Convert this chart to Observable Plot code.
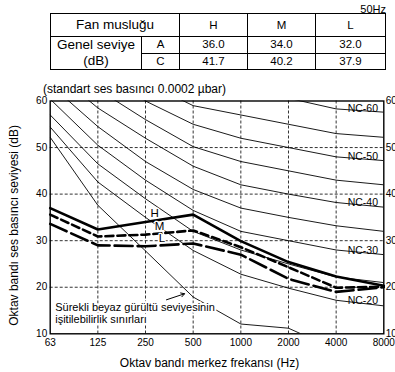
<!DOCTYPE html>
<html><head><meta charset="utf-8">
<script src="https://cdn.jsdelivr.net/npm/d3@7"></script>
<script src="https://cdn.jsdelivr.net/npm/@observablehq/plot@0.6"></script>
<style>
body{margin:0;background:#fff;font-family:"Liberation Sans",Arial,sans-serif;color:#000;}
#wrap{position:relative;width:395px;height:372px;overflow:hidden;background:#fff;}
#chart{position:absolute;left:0;top:0;}
#hz{position:absolute;right:9px;top:3px;font-size:11px;}
#std{position:absolute;left:43px;top:82px;font-size:12px;white-space:nowrap;}
#spec{position:absolute;left:50px;top:13px;border-collapse:collapse;table-layout:fixed;border:1.5px solid #000;}
#spec td{border:1px solid #000;padding:0;text-align:center;font-size:11.5px;line-height:13px;}
#spec tr.h td{height:22px;}
#spec tr.r td{height:15.5px;}
#spec td.big{font-size:13.5px;line-height:16px;}
</style></head>
<body><div id="wrap"><div id="chart"></div><div id="hz"></div><div id="std"></div><table id="spec"></table></div>
<script>
// ---- data ----
const freqs = [62.5, 125, 250, 500, 1000, 2000, 4000, 8000];
const freqLabels = ["63", "125", "250", "500", "1000", "2000", "4000", "8000"];
const yTicks = [10, 20, 30, 40, 50, 60];
const gridY = [20, 30, 40, 50];

const ncNames = ["NC-20", "NC-25", "NC-30", "NC-35", "NC-40", "NC-45", "NC-50", "NC-55", "NC-60"];
const nc20 = [54.4, 42.6, 35.0, 27.9, 22.8, 19.8, 17.2, 16.0];
const nc25 = [57.0, 46.5, 39.0, 32.0, 28.0, 25.0, 22.2, 21.0];
const nc30 = [60.4, 50.5, 43.0, 36.5, 32.0, 30.0, 28.0, 27.0];
const nc35 = [63.5, 54.5, 47.0, 41.0, 37.0, 35.0, 33.2, 32.0];
const nc40 = [67.0, 58.5, 52.0, 46.0, 42.0, 40.0, 38.2, 37.2];
const nc45 = [70.5, 62.5, 56.0, 50.2, 47.0, 45.0, 43.0, 42.0];
const nc50 = [74.0, 66.5, 60.0, 55.0, 52.0, 50.0, 48.0, 47.2];
const nc55 = [77.5, 70.0, 64.0, 59.0, 57.0, 55.0, 53.0, 52.2];
const nc60 = [81.0, 74.0, 69.0, 64.0, 62.0, 60.6, 58.3, 57.6];
const ncLabelled = ["NC-20", "NC-30", "NC-40", "NC-50", "NC-60"];

const thresholdFreqs = [62.5, 125, 250, 500, 1000, 2000, 4000];
const threshold = [52.2, 37.6, 27.8, 17.9, 12.1, 11.2, 6.6];

const seriesNames = ["H", "M", "L"];
const levelH = [37.0, 32.4, 34.0, 35.6, 29.9, 25.4, 22.3, 20.3];
const levelM = [35.6, 30.9, 31.3, 32.2, 28.6, 24.3, 19.9, 20.1];
const levelL = [33.6, 29.0, 28.8, 29.4, 27.0, 21.8, 19.0, 20.0];
const seriesLabelFreq = [286, 307, 318];

const fanLabel = "Fan musluğu";
const overallLabel = ["Genel seviye", "(dB)"];
const weightings = ["A", "C"];
const overallA = ["36.0", "34.0", "32.0"];
const overallC = ["41.7", "40.2", "37.9"];
const hzNote = "50Hz";
const stdNote = "(standart ses basıncı 0.0002 µbar)";
const thresholdNote = ["Sürekli beyaz gürültü seviyesinin", "işitilebilirlik sınırları"];
const thresholdNoteLevel = [15.7, 13.1];
const arrowFrom = {f: 339, v: 17.3};
const arrowTo = {f: 441, v: 18.6};
const xLabel = "Oktav bandı merkez frekansı (Hz)";
const yLabel = "Oktav bandı ses basıncı seviyesi (dB)";
const ncLabelFreq = 5900;

// ---- helpers ----
const ncValues = [nc20, nc25, nc30, nc35, nc40, nc45, nc50, nc55, nc60];
const seriesValues = [levelH, levelM, levelL];
function interp(vals, f) {
  const p = Math.log2(f / freqs[0]);
  const i = Math.min(Math.floor(p), freqs.length - 2);
  const t = p - i;
  return vals[i] * (1 - t) + vals[i + 1] * t;
}
const ncTable = ncNames.flatMap((name, k) => freqs.map((f, i) => ({name, f, v: ncValues[k][i]})));
const ncLabelTable = ncLabelled.map(name => ({name, f: ncLabelFreq, v: interp(ncValues[ncNames.indexOf(name)], ncLabelFreq)}));
const thrTable = thresholdFreqs.map((f, i) => ({f, v: threshold[i]}));
const mk = (vals) => freqs.map((f, i) => ({f, v: vals[i]}));
const labelTable = seriesNames.map((s, k) => ({s, f: seriesLabelFreq[k], v: interp(seriesValues[k], seriesLabelFreq[k])}));
const yMid = (yTicks[0] + yTicks[yTicks.length - 1]) / 2;

const chart = Plot.plot({
  width: 395, height: 372,
  marginTop: 100.5, marginBottom: 38.7, marginLeft: 49.7, marginRight: 11.7,
  style: {fontFamily: "Liberation Sans, Arial, sans-serif", fontSize: "10px", color: "#000", background: "transparent", overflow: "visible"},
  x: {type: "log", base: 2, domain: [62.5, 8000], ticks: freqs, tickFormat: d => freqLabels[freqs.indexOf(d)], label: null, tickSize: 0, tickPadding: 5},
  y: {domain: [10, 60], ticks: yTicks, label: null, tickSize: 0, tickPadding: 3},
  marks: [
    Plot.ruleY(gridY, {stroke: "#333", strokeWidth: 1, strokeDasharray: "3,2"}),
    Plot.ruleX(freqs.slice(1, -1), {stroke: "#333", strokeWidth: 1, strokeDasharray: "3,2"}),
    Plot.line(ncTable, {x: "f", y: "v", z: "name", stroke: "#000", strokeWidth: 0.9, clip: true}),
    Plot.line(thrTable, {x: "f", y: "v", stroke: "#000", strokeWidth: 0.9, clip: true}),
    Plot.text(thresholdNote, {x: () => freqs[0], y: (d, i) => thresholdNoteLevel[i], text: d => d, textAnchor: "start", dx: 5, fontSize: 11, stroke: "#fff", strokeWidth: 4, fill: "#000"}),
    Plot.arrow([0], {x1: () => arrowFrom.f, y1: () => arrowFrom.v, x2: () => arrowTo.f, y2: () => arrowTo.v, stroke: "#000", strokeWidth: 1, headLength: 6}),
    Plot.line(mk(levelH), {x: "f", y: "v", stroke: "#000", strokeWidth: 2.6}),
    Plot.line(mk(levelM), {x: "f", y: "v", stroke: "#000", strokeWidth: 2.6, strokeDasharray: "8,4"}),
    Plot.line(mk(levelL), {x: "f", y: "v", stroke: "#000", strokeWidth: 2.6, strokeDasharray: "18,5"}),
    Plot.text(labelTable, {x: "f", y: "v", text: "s", dy: -7, fontSize: 11.5, stroke: "#fff", strokeWidth: 2.5, fill: "#000"}),
    Plot.text(ncLabelTable, {x: "f", y: "v", text: "name", lineAnchor: "bottom", dy: 1, fontSize: 10.5, fill: "#000"}),
    Plot.text(yTicks, {x: () => 8000, y: d => d, text: d => String(d), textAnchor: "start", dx: 2, fontSize: 10, fill: "#000"}),
    Plot.text([xLabel], {frameAnchor: "bottom", lineAnchor: "middle", dy: 29, dx: -7.5, fontSize: 12, fill: "#000"}),
    Plot.text([yLabel], {x: () => freqs[0], y: () => yMid, rotate: -90, lineAnchor: "middle", dx: -36.4, dy: 8, fontSize: 12, fill: "#000"}),
    Plot.frame({stroke: "#000", strokeWidth: 1.4})
  ]
});
document.getElementById("chart").appendChild(chart);

// ---- table ----
document.getElementById("hz").textContent = hzNote;
document.getElementById("std").textContent = stdNote;
const colW = [91, 38, 68, 68, 70];
const tbl = document.getElementById("spec");
const cg = document.createElement("colgroup");
colW.forEach(w => { const c = document.createElement("col"); c.style.width = w + "px"; cg.appendChild(c); });
tbl.appendChild(cg);
let html = `<tr class="h"><td class="big" colspan="2">${fanLabel}</td>` + seriesNames.map(s => `<td>${s}</td>`).join("") + `</tr>`;
html += `<tr class="r"><td class="big" rowspan="2">${overallLabel[0]}<br>${overallLabel[1]}</td><td>${weightings[0]}</td>` + overallA.map(v => `<td>${v}</td>`).join("") + `</tr>`;
html += `<tr class="r"><td>${weightings[1]}</td>` + overallC.map(v => `<td>${v}</td>`).join("") + `</tr>`;
tbl.insertAdjacentHTML("beforeend", html);
</script>
</body></html>
